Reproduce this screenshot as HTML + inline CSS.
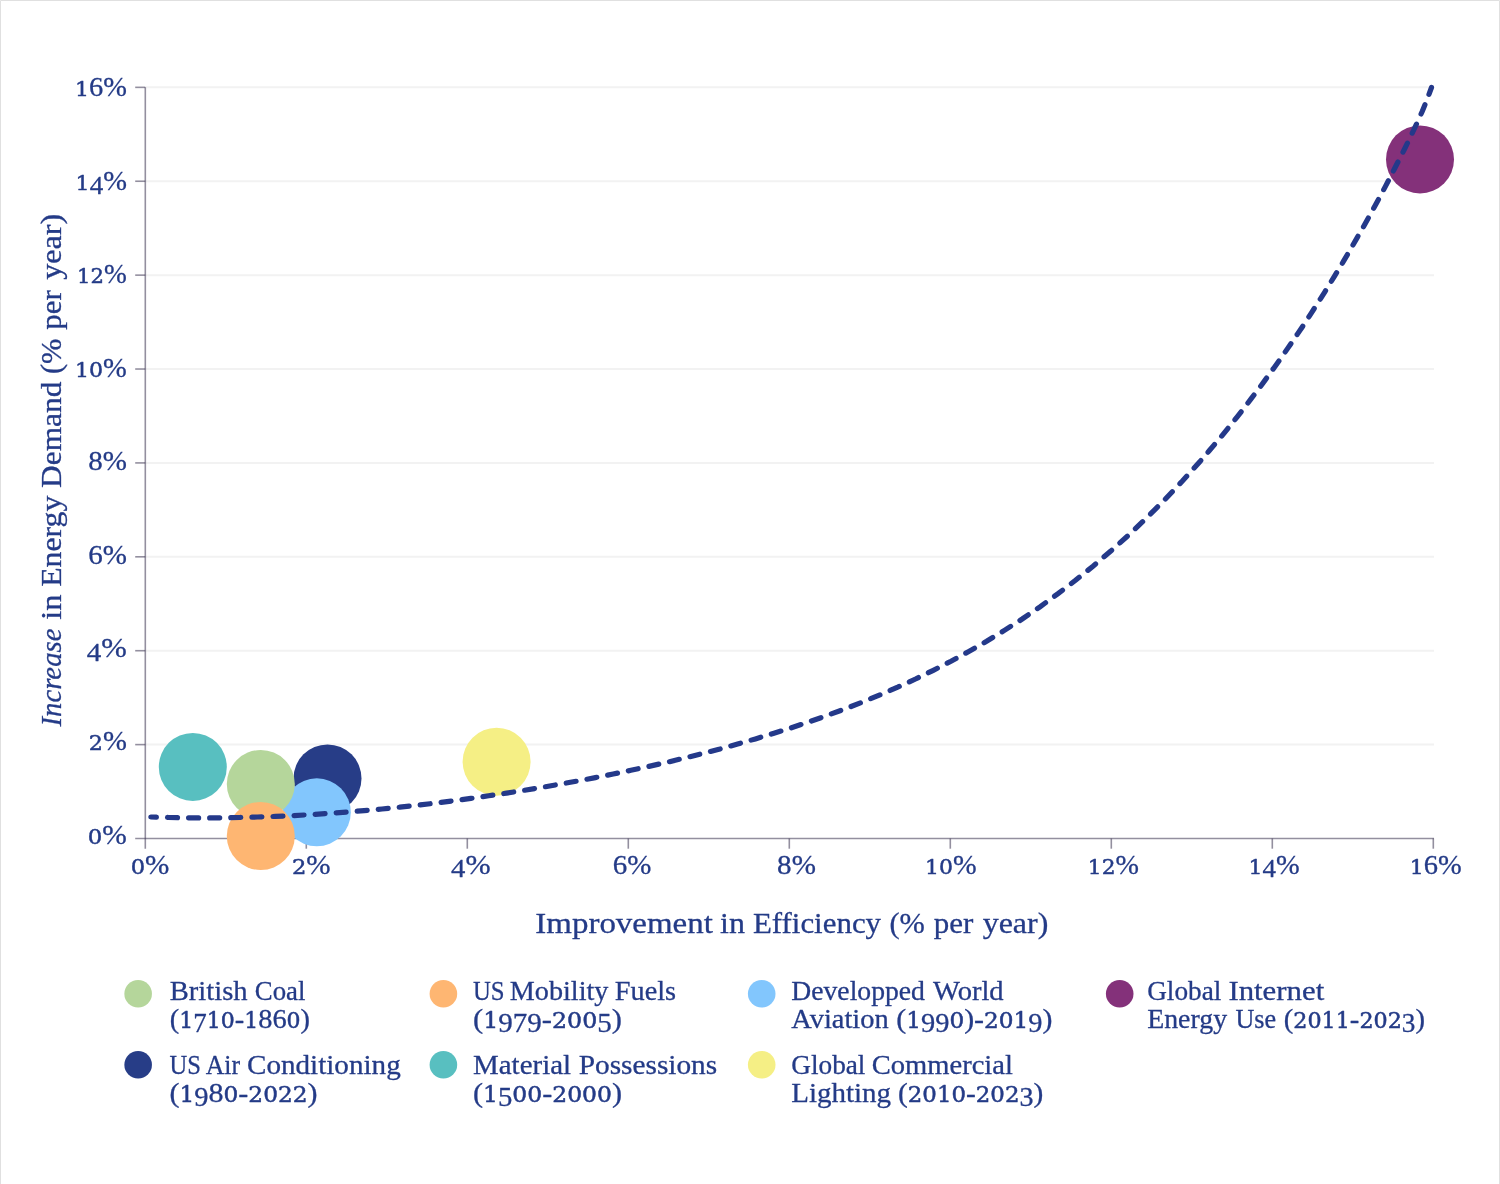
<!DOCTYPE html>
<html><head><meta charset="utf-8"><title>Efficiency vs Energy Demand</title>
<style>
html,body{margin:0;padding:0;background:#fff;}
body{width:1500px;height:1184px;overflow:hidden;position:relative;}
svg{position:absolute;left:0;top:0;display:block;}
text{font-family:"Liberation Serif",serif;fill:#243b87;stroke:#243b87;stroke-width:0.3px;stroke-linejoin:round;}
.tick{font-size:27.5px;}
.ttl{font-size:30px;}
.lg{font-size:28px;}
</style></head><body>
<svg width="1500" height="1184" viewBox="0 0 1500 1184">
<rect x="0" y="0" width="1500" height="1184" fill="#fff"/>
<path d="M0.5,1184 V0.5 H1499.5 V1184" fill="none" stroke="#e0e0e0" stroke-width="1"/>

<line x1="146" x2="1434" y1="744.61" y2="744.61" stroke="#f2f2f2" stroke-width="2"/>
<line x1="146" x2="1434" y1="650.71" y2="650.71" stroke="#f2f2f2" stroke-width="2"/>
<line x1="146" x2="1434" y1="556.82" y2="556.82" stroke="#f2f2f2" stroke-width="2"/>
<line x1="146" x2="1434" y1="462.92" y2="462.92" stroke="#f2f2f2" stroke-width="2"/>
<line x1="146" x2="1434" y1="369.03" y2="369.03" stroke="#f2f2f2" stroke-width="2"/>
<line x1="146" x2="1434" y1="275.14" y2="275.14" stroke="#f2f2f2" stroke-width="2"/>
<line x1="146" x2="1434" y1="181.24" y2="181.24" stroke="#f2f2f2" stroke-width="2"/>
<line x1="146" x2="1434" y1="87.35" y2="87.35" stroke="#f2f2f2" stroke-width="2"/>
<line x1="145.3" x2="145.3" y1="87.3" y2="848.7" stroke="#3a3350" stroke-width="1.6" stroke-opacity="0.55"/>
<line x1="135.2" x2="1434" y1="838.5" y2="838.5" stroke="#3a3350" stroke-width="1.6" stroke-opacity="0.55"/>
<line x1="135.2" x2="145.3" y1="744.61" y2="744.61" stroke="#3a3350" stroke-width="1.6" stroke-opacity="0.55"/>
<line x1="306.30" x2="306.30" y1="838.5" y2="848.7" stroke="#3a3350" stroke-width="1.6" stroke-opacity="0.55"/>
<line x1="135.2" x2="145.3" y1="650.71" y2="650.71" stroke="#3a3350" stroke-width="1.6" stroke-opacity="0.55"/>
<line x1="467.30" x2="467.30" y1="838.5" y2="848.7" stroke="#3a3350" stroke-width="1.6" stroke-opacity="0.55"/>
<line x1="135.2" x2="145.3" y1="556.82" y2="556.82" stroke="#3a3350" stroke-width="1.6" stroke-opacity="0.55"/>
<line x1="628.30" x2="628.30" y1="838.5" y2="848.7" stroke="#3a3350" stroke-width="1.6" stroke-opacity="0.55"/>
<line x1="135.2" x2="145.3" y1="462.92" y2="462.92" stroke="#3a3350" stroke-width="1.6" stroke-opacity="0.55"/>
<line x1="789.30" x2="789.30" y1="838.5" y2="848.7" stroke="#3a3350" stroke-width="1.6" stroke-opacity="0.55"/>
<line x1="135.2" x2="145.3" y1="369.03" y2="369.03" stroke="#3a3350" stroke-width="1.6" stroke-opacity="0.55"/>
<line x1="950.30" x2="950.30" y1="838.5" y2="848.7" stroke="#3a3350" stroke-width="1.6" stroke-opacity="0.55"/>
<line x1="135.2" x2="145.3" y1="275.14" y2="275.14" stroke="#3a3350" stroke-width="1.6" stroke-opacity="0.55"/>
<line x1="1111.30" x2="1111.30" y1="838.5" y2="848.7" stroke="#3a3350" stroke-width="1.6" stroke-opacity="0.55"/>
<line x1="135.2" x2="145.3" y1="181.24" y2="181.24" stroke="#3a3350" stroke-width="1.6" stroke-opacity="0.55"/>
<line x1="1272.30" x2="1272.30" y1="838.5" y2="848.7" stroke="#3a3350" stroke-width="1.6" stroke-opacity="0.55"/>
<line x1="135.2" x2="145.3" y1="87.35" y2="87.35" stroke="#3a3350" stroke-width="1.6" stroke-opacity="0.55"/>
<line x1="1433.30" x2="1433.30" y1="838.5" y2="848.7" stroke="#3a3350" stroke-width="1.6" stroke-opacity="0.55"/>
<text class="tick" x="75.0" y="96.2" textLength="51.9" lengthAdjust="spacingAndGlyphs"><tspan font-family="DejaVu Serif,serif" font-size="21.3px" stroke-width="0.5" dy="0.00">1</tspan>6%</text>
<text class="tick" x="75.6" y="189.7" textLength="51.3" lengthAdjust="spacingAndGlyphs"><tspan font-family="DejaVu Serif,serif" font-size="21.3px" stroke-width="0.5" dy="0.00">1</tspan><tspan font-size="26.1px" dy="3.99">4</tspan><tspan dy="-3.99">%</tspan></text>
<text class="tick" x="77.1" y="283.1" textLength="49.8" lengthAdjust="spacingAndGlyphs"><tspan font-family="DejaVu Serif,serif" font-size="21.3px" stroke-width="0.5" dy="0.00">1</tspan><tspan font-family="DejaVu Serif,serif" font-size="21.3px" stroke-width="0.5" dy="0.00">2</tspan>%</text>
<text class="tick" x="75.0" y="376.6" textLength="51.9" lengthAdjust="spacingAndGlyphs"><tspan font-family="DejaVu Serif,serif" font-size="21.3px" stroke-width="0.5" dy="0.00">1</tspan><tspan font-family="DejaVu Serif,serif" font-size="21.3px" stroke-width="0.5" dy="0.00">0</tspan>%</text>
<text class="tick" x="88.2" y="470.0" textLength="38.7" lengthAdjust="spacingAndGlyphs">8%</text>
<text class="tick" x="88.2" y="563.5" textLength="38.7" lengthAdjust="spacingAndGlyphs">6%</text>
<text class="tick" x="86.8" y="656.9" textLength="40.1" lengthAdjust="spacingAndGlyphs"><tspan font-size="26.1px" dy="3.99">4</tspan><tspan dy="-3.99">%</tspan></text>
<text class="tick" x="88.8" y="750.4" textLength="38.1" lengthAdjust="spacingAndGlyphs"><tspan font-family="DejaVu Serif,serif" font-size="21.3px" stroke-width="0.5" dy="0.00">2</tspan>%</text>
<text class="tick" x="87.8" y="843.8" textLength="39.1" lengthAdjust="spacingAndGlyphs"><tspan font-family="DejaVu Serif,serif" font-size="21.3px" stroke-width="0.5" dy="0.00">0</tspan>%</text>
<text class="tick" x="130.7" y="873.5" textLength="38.7" lengthAdjust="spacingAndGlyphs"><tspan font-family="DejaVu Serif,serif" font-size="21.3px" stroke-width="0.5" dy="0.00">0</tspan>%</text>
<text class="tick" x="291.9" y="873.5" textLength="38.7" lengthAdjust="spacingAndGlyphs"><tspan font-family="DejaVu Serif,serif" font-size="21.3px" stroke-width="0.5" dy="0.00">2</tspan>%</text>
<text class="tick" x="451.1" y="873.5" textLength="39.5" lengthAdjust="spacingAndGlyphs"><tspan font-size="26.1px" dy="3.99">4</tspan><tspan dy="-3.99">%</tspan></text>
<text class="tick" x="612.7" y="873.5" textLength="38.6" lengthAdjust="spacingAndGlyphs">6%</text>
<text class="tick" x="777.1" y="873.5" textLength="38.8" lengthAdjust="spacingAndGlyphs">8%</text>
<text class="tick" x="925.0" y="873.5" textLength="51.6" lengthAdjust="spacingAndGlyphs"><tspan font-family="DejaVu Serif,serif" font-size="21.3px" stroke-width="0.5" dy="0.00">1</tspan><tspan font-family="DejaVu Serif,serif" font-size="21.3px" stroke-width="0.5" dy="0.00">0</tspan>%</text>
<text class="tick" x="1087.8" y="873.5" textLength="51.2" lengthAdjust="spacingAndGlyphs"><tspan font-family="DejaVu Serif,serif" font-size="21.3px" stroke-width="0.5" dy="0.00">1</tspan><tspan font-family="DejaVu Serif,serif" font-size="21.3px" stroke-width="0.5" dy="0.00">2</tspan>%</text>
<text class="tick" x="1248.6" y="873.5" textLength="51.2" lengthAdjust="spacingAndGlyphs"><tspan font-family="DejaVu Serif,serif" font-size="21.3px" stroke-width="0.5" dy="0.00">1</tspan><tspan font-size="26.1px" dy="3.99">4</tspan><tspan dy="-3.99">%</tspan></text>
<text class="tick" x="1409.8" y="873.5" textLength="52.0" lengthAdjust="spacingAndGlyphs"><tspan font-family="DejaVu Serif,serif" font-size="21.3px" stroke-width="0.5" dy="0.00">1</tspan>6%</text>
<text class="ttl" y="932.5"><tspan x="535.3" textLength="177.6" lengthAdjust="spacingAndGlyphs">Improvement</tspan> <tspan x="720.0" textLength="24.9" lengthAdjust="spacingAndGlyphs">in</tspan> <tspan x="752.9" textLength="128.2" lengthAdjust="spacingAndGlyphs">Efficiency</tspan> <tspan x="889.5" textLength="35.4" lengthAdjust="spacingAndGlyphs">(%</tspan> <tspan x="933.7" textLength="39.6" lengthAdjust="spacingAndGlyphs">per</tspan> <tspan x="982.7" textLength="65.7" lengthAdjust="spacingAndGlyphs">year)</tspan></text>
<text class="ttl" transform="translate(60.8,726.5) rotate(-90)" y="0"><tspan x="0.0" textLength="98.0" lengthAdjust="spacingAndGlyphs" font-style="italic">Increase</tspan> <tspan x="106.8" textLength="25.3" lengthAdjust="spacingAndGlyphs">in</tspan> <tspan x="139.7" textLength="91.2" lengthAdjust="spacingAndGlyphs">Energy</tspan> <tspan x="238.5" textLength="106.5" lengthAdjust="spacingAndGlyphs">Demand</tspan> <tspan x="352.5" textLength="35.4" lengthAdjust="spacingAndGlyphs">(%</tspan> <tspan x="396.7" textLength="39.6" lengthAdjust="spacingAndGlyphs">per</tspan> <tspan x="446.7" textLength="66.1" lengthAdjust="spacingAndGlyphs">year)</tspan></text>
<circle cx="192.8" cy="766.9" r="34.0" fill="#58bfc0"/>
<circle cx="327.5" cy="778.4" r="34.0" fill="#273d87"/>
<circle cx="316.8" cy="812.3" r="34.0" fill="#82c6fd"/>
<circle cx="260.8" cy="784" r="34.0" fill="#b5d69b"/>
<circle cx="260.8" cy="836" r="34.0" fill="#feb672"/>
<circle cx="496.6" cy="761.7" r="34.0" fill="#f5ef85"/>
<circle cx="1420" cy="159.4" r="34.0" fill="#84317a"/>
<path d="M150.8,817.0 L168.6,817.5 L186.4,817.8 L204.1,817.9 L221.9,817.8 L239.7,817.5 L257.5,817.0 L275.3,816.4 L293.1,815.6 L310.8,814.6 L328.6,813.4 L346.4,812.1 L364.2,810.6 L382.0,809.0 L399.8,807.2 L417.5,805.2 L435.3,803.1 L453.1,800.8 L470.9,798.4 L488.7,795.8 L506.5,793.1 L524.2,790.3 L542.0,787.3 L559.8,784.2 L577.6,781.0 L595.4,777.6 L613.2,774.0 L630.9,770.3 L648.7,766.4 L666.5,762.4 L684.3,758.1 L702.1,753.6 L719.9,749.0 L737.6,744.0 L755.4,738.9 L773.2,733.5 L791.0,727.9 L808.8,721.9 L826.6,715.7 L844.3,709.1 L862.1,702.2 L879.9,694.9 L897.7,687.2 L915.5,679.0 L933.3,670.3 L951.0,661.2 L968.8,651.5 L986.6,641.3 L1004.4,630.4 L1022.2,619.0 L1040.0,606.8 L1057.7,593.9 L1075.5,580.3 L1093.3,566.0 L1111.1,550.8 L1128.9,534.8 L1146.7,517.8 L1164.4,500.0 L1182.2,481.2 L1200.0,461.5 L1205.0,455.7 L1209.6,450.3 L1214.2,444.9 L1218.9,439.4 L1223.5,433.8 L1228.1,428.1 L1232.7,422.4 L1237.4,416.6 L1242.0,410.7 L1246.6,404.7 L1251.2,398.7 L1255.8,392.6 L1260.5,386.4 L1265.1,380.1 L1269.7,373.8 L1274.3,367.4 L1279.0,360.9 L1283.6,354.3 L1288.2,347.6 L1292.8,340.9 L1297.4,334.1 L1302.1,327.2 L1306.7,320.2 L1311.3,313.1 L1315.9,305.9 L1320.6,298.6 L1325.2,291.3 L1329.8,283.8 L1334.4,276.3 L1339.1,268.7 L1343.7,260.9 L1348.3,253.1 L1352.9,245.1 L1357.5,237.1 L1362.2,229.0 L1366.8,220.7 L1371.4,212.4 L1376.0,203.9 L1380.7,195.3 L1385.3,186.6 L1389.9,177.8 L1394.5,168.8 L1399.1,159.7 L1403.8,150.5 L1408.4,141.1 L1413.0,131.5 L1417.6,121.7 L1422.3,111.2 L1426.9,100.0 L1431.5,87.5" fill="none" stroke="#24398a" stroke-width="5.2" stroke-linecap="round" stroke-dasharray="10 11.1" stroke-dashoffset="4.4"/>
<circle cx="138.15" cy="993.8" r="13.8" fill="#b5d69b"/>
<text class="lg" y="1000.1"><tspan x="169.8" textLength="77.8" lengthAdjust="spacingAndGlyphs">British</tspan> <tspan x="254.8" textLength="50.6" lengthAdjust="spacingAndGlyphs">Coal</tspan></text>
<text class="lg" y="1028.2"><tspan x="169.8" textLength="140.3" lengthAdjust="spacingAndGlyphs">(<tspan font-family="DejaVu Serif,serif" font-size="21.7px" stroke-width="0.5" dy="0.00">1</tspan><tspan font-size="26.6px" dy="4.06">7</tspan><tspan font-family="DejaVu Serif,serif" font-size="21.7px" stroke-width="0.5" dy="-4.06">1</tspan><tspan font-family="DejaVu Serif,serif" font-size="21.7px" stroke-width="0.5" dy="0.00">0</tspan>-<tspan font-family="DejaVu Serif,serif" font-size="21.7px" stroke-width="0.5" dy="0.00">1</tspan>86<tspan font-family="DejaVu Serif,serif" font-size="21.7px" stroke-width="0.5" dy="0.00">0</tspan>)</tspan></text>
<circle cx="443.4" cy="993.8" r="13.8" fill="#feb672"/>
<text class="lg" y="1000.1"><tspan x="473.0" textLength="31.6" lengthAdjust="spacingAndGlyphs">US</tspan> <tspan x="509.8" textLength="98.6" lengthAdjust="spacingAndGlyphs">Mobility</tspan> <tspan x="614.8" textLength="61.3" lengthAdjust="spacingAndGlyphs">Fuels</tspan></text>
<text class="lg" y="1028.2"><tspan x="473.0" textLength="149.0" lengthAdjust="spacingAndGlyphs">(<tspan font-family="DejaVu Serif,serif" font-size="21.7px" stroke-width="0.5" dy="0.00">1</tspan><tspan font-size="26.6px" dy="4.06">9</tspan><tspan font-size="26.6px" dy="0.00">7</tspan><tspan font-size="26.6px" dy="0.00">9</tspan><tspan dy="-4.06">-</tspan><tspan font-family="DejaVu Serif,serif" font-size="21.7px" stroke-width="0.5" dy="0.00">2</tspan><tspan font-family="DejaVu Serif,serif" font-size="21.7px" stroke-width="0.5" dy="0.00">0</tspan><tspan font-family="DejaVu Serif,serif" font-size="21.7px" stroke-width="0.5" dy="0.00">0</tspan><tspan font-size="26.6px" dy="4.06">5</tspan><tspan dy="-4.06">)</tspan></tspan></text>
<circle cx="761.7" cy="993.8" r="13.8" fill="#82c6fd"/>
<text class="lg" y="1000.1"><tspan x="791.3" textLength="133.6" lengthAdjust="spacingAndGlyphs">Developped</tspan> <tspan x="933.0" textLength="70.6" lengthAdjust="spacingAndGlyphs">World</tspan></text>
<text class="lg" y="1028.2"><tspan x="791.3" textLength="97.4" lengthAdjust="spacingAndGlyphs">Aviation</tspan> <tspan x="896.3" textLength="156.2" lengthAdjust="spacingAndGlyphs">(<tspan font-family="DejaVu Serif,serif" font-size="21.7px" stroke-width="0.5" dy="0.00">1</tspan><tspan font-size="26.6px" dy="4.06">9</tspan><tspan font-size="26.6px" dy="0.00">9</tspan><tspan font-family="DejaVu Serif,serif" font-size="21.7px" stroke-width="0.5" dy="-4.06">0</tspan>)-<tspan font-family="DejaVu Serif,serif" font-size="21.7px" stroke-width="0.5" dy="0.00">2</tspan><tspan font-family="DejaVu Serif,serif" font-size="21.7px" stroke-width="0.5" dy="0.00">0</tspan><tspan font-family="DejaVu Serif,serif" font-size="21.7px" stroke-width="0.5" dy="0.00">1</tspan><tspan font-size="26.6px" dy="4.06">9</tspan><tspan dy="-4.06">)</tspan></tspan></text>
<circle cx="1119.7" cy="993.8" r="13.8" fill="#84317a"/>
<text class="lg" y="1000.1"><tspan x="1147.2" textLength="74.1" lengthAdjust="spacingAndGlyphs">Global</tspan> <tspan x="1228.4" textLength="95.8" lengthAdjust="spacingAndGlyphs">Internet</tspan></text>
<text class="lg" y="1028.2"><tspan x="1147.2" textLength="79.9" lengthAdjust="spacingAndGlyphs">Energy</tspan> <tspan x="1235.4" textLength="40.7" lengthAdjust="spacingAndGlyphs">Use</tspan> <tspan x="1283.7" textLength="141.3" lengthAdjust="spacingAndGlyphs">(<tspan font-family="DejaVu Serif,serif" font-size="21.7px" stroke-width="0.5" dy="0.00">2</tspan><tspan font-family="DejaVu Serif,serif" font-size="21.7px" stroke-width="0.5" dy="0.00">0</tspan><tspan font-family="DejaVu Serif,serif" font-size="21.7px" stroke-width="0.5" dy="0.00">1</tspan><tspan font-family="DejaVu Serif,serif" font-size="21.7px" stroke-width="0.5" dy="0.00">1</tspan>-<tspan font-family="DejaVu Serif,serif" font-size="21.7px" stroke-width="0.5" dy="0.00">2</tspan><tspan font-family="DejaVu Serif,serif" font-size="21.7px" stroke-width="0.5" dy="0.00">0</tspan><tspan font-family="DejaVu Serif,serif" font-size="21.7px" stroke-width="0.5" dy="0.00">2</tspan><tspan font-size="26.6px" dy="4.06">3</tspan><tspan dy="-4.06">)</tspan></tspan></text>
<circle cx="138.15" cy="1064.7" r="13.8" fill="#273d87"/>
<text class="lg" y="1073.9"><tspan x="169.5" textLength="31.4" lengthAdjust="spacingAndGlyphs">US</tspan> <tspan x="205.7" textLength="34.4" lengthAdjust="spacingAndGlyphs">Air</tspan> <tspan x="247.0" textLength="153.7" lengthAdjust="spacingAndGlyphs">Conditioning</tspan></text>
<text class="lg" y="1102.0"><tspan x="169.5" textLength="148.1" lengthAdjust="spacingAndGlyphs">(<tspan font-family="DejaVu Serif,serif" font-size="21.7px" stroke-width="0.5" dy="0.00">1</tspan><tspan font-size="26.6px" dy="4.06">9</tspan><tspan dy="-4.06">8</tspan><tspan font-family="DejaVu Serif,serif" font-size="21.7px" stroke-width="0.5" dy="0.00">0</tspan>-<tspan font-family="DejaVu Serif,serif" font-size="21.7px" stroke-width="0.5" dy="0.00">2</tspan><tspan font-family="DejaVu Serif,serif" font-size="21.7px" stroke-width="0.5" dy="0.00">0</tspan><tspan font-family="DejaVu Serif,serif" font-size="21.7px" stroke-width="0.5" dy="0.00">2</tspan><tspan font-family="DejaVu Serif,serif" font-size="21.7px" stroke-width="0.5" dy="0.00">2</tspan>)</tspan></text>
<circle cx="443.4" cy="1064.7" r="13.8" fill="#58bfc0"/>
<text class="lg" y="1073.9"><tspan x="473.0" textLength="98.1" lengthAdjust="spacingAndGlyphs">Material</tspan> <tspan x="578.7" textLength="138.5" lengthAdjust="spacingAndGlyphs">Possessions</tspan></text>
<text class="lg" y="1102.0"><tspan x="473.0" textLength="149.0" lengthAdjust="spacingAndGlyphs">(<tspan font-family="DejaVu Serif,serif" font-size="21.7px" stroke-width="0.5" dy="0.00">1</tspan><tspan font-size="26.6px" dy="4.06">5</tspan><tspan font-family="DejaVu Serif,serif" font-size="21.7px" stroke-width="0.5" dy="-4.06">0</tspan><tspan font-family="DejaVu Serif,serif" font-size="21.7px" stroke-width="0.5" dy="0.00">0</tspan>-<tspan font-family="DejaVu Serif,serif" font-size="21.7px" stroke-width="0.5" dy="0.00">2</tspan><tspan font-family="DejaVu Serif,serif" font-size="21.7px" stroke-width="0.5" dy="0.00">0</tspan><tspan font-family="DejaVu Serif,serif" font-size="21.7px" stroke-width="0.5" dy="0.00">0</tspan><tspan font-family="DejaVu Serif,serif" font-size="21.7px" stroke-width="0.5" dy="0.00">0</tspan>)</tspan></text>
<circle cx="761.7" cy="1064.7" r="13.8" fill="#f5ef85"/>
<text class="lg" y="1073.9"><tspan x="791.3" textLength="74.1" lengthAdjust="spacingAndGlyphs">Global</tspan> <tspan x="871.8" textLength="141.1" lengthAdjust="spacingAndGlyphs">Commercial</tspan></text>
<text class="lg" y="1102.0"><tspan x="791.3" textLength="99.8" lengthAdjust="spacingAndGlyphs">Lighting</tspan> <tspan x="898.0" textLength="145.3" lengthAdjust="spacingAndGlyphs">(<tspan font-family="DejaVu Serif,serif" font-size="21.7px" stroke-width="0.5" dy="0.00">2</tspan><tspan font-family="DejaVu Serif,serif" font-size="21.7px" stroke-width="0.5" dy="0.00">0</tspan><tspan font-family="DejaVu Serif,serif" font-size="21.7px" stroke-width="0.5" dy="0.00">1</tspan><tspan font-family="DejaVu Serif,serif" font-size="21.7px" stroke-width="0.5" dy="0.00">0</tspan>-<tspan font-family="DejaVu Serif,serif" font-size="21.7px" stroke-width="0.5" dy="0.00">2</tspan><tspan font-family="DejaVu Serif,serif" font-size="21.7px" stroke-width="0.5" dy="0.00">0</tspan><tspan font-family="DejaVu Serif,serif" font-size="21.7px" stroke-width="0.5" dy="0.00">2</tspan><tspan font-size="26.6px" dy="4.06">3</tspan><tspan dy="-4.06">)</tspan></tspan></text>
</svg></body></html>
